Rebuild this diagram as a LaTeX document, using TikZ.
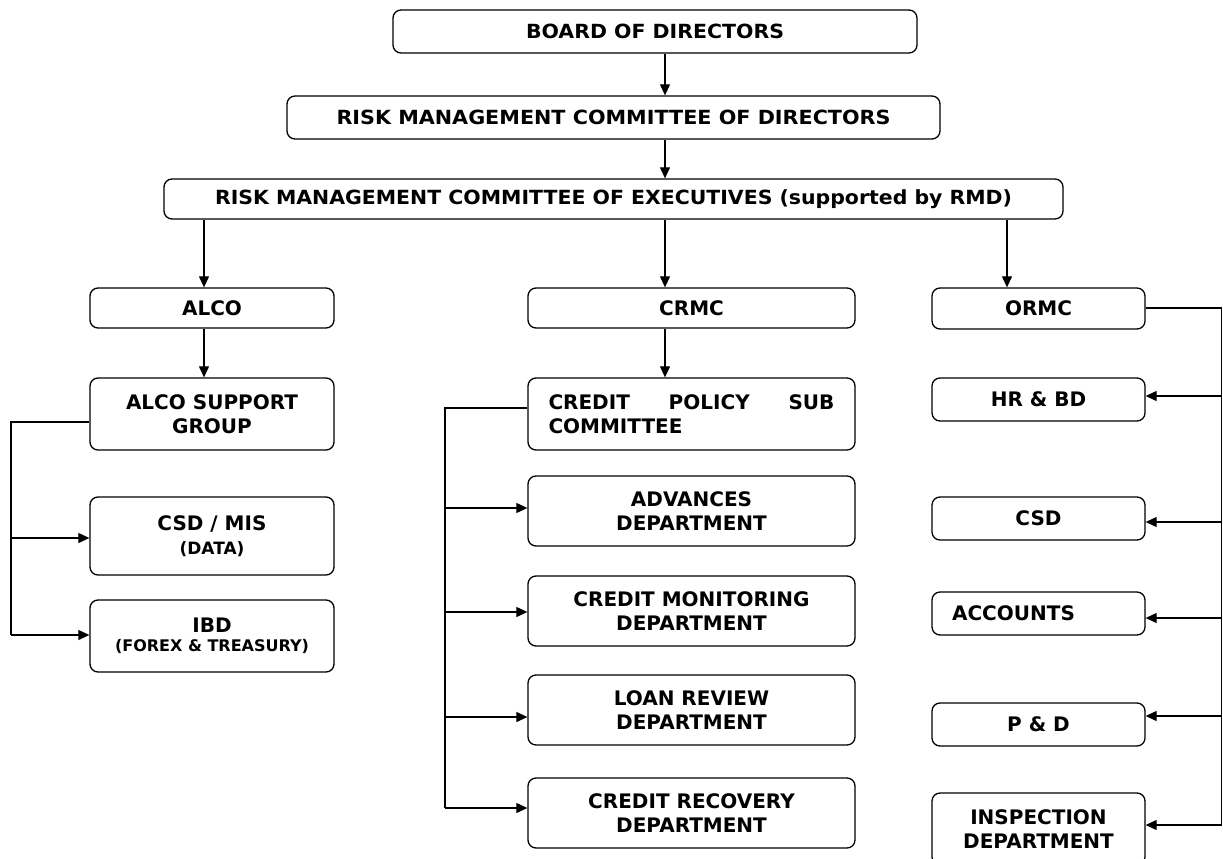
\documentclass[tikz,border=0pt]{standalone}
\usepackage{fontspec}
\usepackage{graphicx}
\setmainfont{DejaVu Sans}
\newfontfamily\condfont{DejaVu Sans Condensed}
\usetikzlibrary{arrows.meta}
\newcommand{\wfit}[2]{\resizebox{#1}{\height}{#2}}
\begin{document}
\begin{tikzpicture}[x=1pt,y=-1pt,
  box/.style={draw, line width=1.3pt, rounded corners=8pt, fill=white, inner sep=0pt,
              align=center, font=\fontsize{20}{23.5}\selectfont\bfseries},
  topbox/.style={box, font=\fontsize{19.5}{22}\selectfont\bfseries\condfont},
  conn/.style={line width=1.1pt},
  arr/.style={conn, -{Triangle[length=11pt,width=10pt]}},
]
\useasboundingbox (0,0) rectangle (1223,859);

% top chain
\node[topbox, minimum width=524pt, minimum height=43pt] (board) at (655,31.5) {\wfit{258pt}{BOARD OF DIRECTORS}};
\node[topbox, minimum width=653pt, minimum height=43pt] (rmcd) at (613.5,117.5) {\wfit{554pt}{RISK MANAGEMENT COMMITTEE OF DIRECTORS}};
\node[topbox, minimum width=899pt, minimum height=40pt] (rmce) at (613.5,199) {\wfit{797pt}{RISK MANAGEMENT COMMITTEE OF EXECUTIVES (supported by RMD)}};

% committees
\node[box, minimum width=244pt, minimum height=40pt] (alco) at (212,308) {ALCO};
\node[box, minimum width=327pt, minimum height=40pt] (crmc) at (691.5,308) {CRMC};
\node[box, minimum width=213pt, minimum height=41pt] (ormc) at (1038.5,308.5) {ORMC};

% ALCO column
\node[box, minimum width=244pt, minimum height=72pt] (alcosg) at (212,414) {ALCO SUPPORT\\GROUP};
\node[box, minimum width=244pt, minimum height=78pt] (csdmis) at (212,536) {\raisebox{4pt}{CSD / MIS}\\[-3pt]{\fontsize{17}{20}\selectfont (DATA)}};
\node[box, minimum width=244pt, minimum height=72pt] (ibd) at (212,636) {IBD\\[-5pt]{\fontsize{16}{18}\selectfont (FOREX \& TREASURY)}};

% CRMC column
\node[box, minimum width=327pt, minimum height=72pt] (cpsc) at (691.5,414) {\parbox{286pt}{CREDIT\hfill POLICY\hfill SUB\\COMMITTEE}};
\node[box, minimum width=327pt, minimum height=70pt] (adv) at (691.5,511) {ADVANCES\\DEPARTMENT};
\node[box, minimum width=327pt, minimum height=70pt] (cmon) at (691.5,611) {CREDIT MONITORING\\DEPARTMENT};
\node[box, minimum width=327pt, minimum height=70pt] (lrev) at (691.5,710) {LOAN REVIEW\\DEPARTMENT};
\node[box, minimum width=327pt, minimum height=70pt] (crec) at (691.5,813) {CREDIT RECOVERY\\DEPARTMENT};

% ORMC column
\node[box, minimum width=213pt, minimum height=43pt] (hrbd) at (1038.5,399.5) {HR \& BD};
\node[box, minimum width=213pt, minimum height=43pt] (csd) at (1038.5,518.5) {CSD};
\node[box, minimum width=213pt, minimum height=43pt] (acc) at (1038.5,613.5) {ACCOUNTS\hspace*{50pt}};
\node[box, minimum width=213pt, minimum height=43pt] (pd) at (1038.5,724.5) {P \& D};
\node[box, minimum width=213pt, minimum height=72pt] (insp) at (1038.5,829) {INSPECTION\\DEPARTMENT};

% vertical spine arrows
\coordinate (xA) at (665,0);
\coordinate (xL) at (204,0);
\coordinate (xR) at (1007,0);
\draw[arr] (board.south -| xA) -- (rmcd.north -| xA);
\draw[arr] (rmcd.south -| xA) -- (rmce.north -| xA);
\draw[arr] (rmce.south -| xA) -- (crmc.north -| xA);
\draw[arr] (crmc.south -| xA) -- (cpsc.north -| xA);
\draw[arr] (rmce.south -| xL) -- (alco.north -| xL);
\draw[arr] (alco.south -| xL) -- (alcosg.north -| xL);
\draw[arr] (rmce.south -| xR) -- (ormc.north -| xR);

% left bracket
\coordinate (lt) at (11,422);
\coordinate (lm) at (12,538);
\coordinate (lb) at (11,635);
\draw[conn] (lt -| alcosg.west) -- (lt) -- (lb);
\draw[arr] (lm) -- (lm -| csdmis.west);
\draw[arr] (lb) -- (lb -| ibd.west);

% middle bracket
\coordinate (mt) at (445,408);
\coordinate (m1) at (445,508);
\coordinate (m2) at (445,612);
\coordinate (m3) at (445,717);
\coordinate (mb) at (445,808);
\draw[conn] (mt -| cpsc.west) -- (mt) -- (mb);
\draw[arr] (m1) -- (m1 -| adv.west);
\draw[arr] (m2) -- (m2 -| cmon.west);
\draw[arr] (m3) -- (m3 -| lrev.west);
\draw[arr] (mb) -- (mb -| crec.west);

% right bracket
\coordinate (rt) at (1221.5,308);
\coordinate (r1) at (1221.5,396);
\coordinate (r2) at (1221.5,522);
\coordinate (r3) at (1221.5,618);
\coordinate (r4) at (1221.5,716);
\coordinate (rb) at (1221.5,825);
\draw[conn] (rt -| ormc.east) -- (rt) -- (rb);
\draw[arr] (r1) -- (r1 -| hrbd.east);
\draw[arr] (r2) -- (r2 -| csd.east);
\draw[arr] (r3) -- (r3 -| acc.east);
\draw[arr] (r4) -- (r4 -| pd.east);
\draw[arr] (rb) -- (rb -| insp.east);
\end{tikzpicture}
\end{document}
